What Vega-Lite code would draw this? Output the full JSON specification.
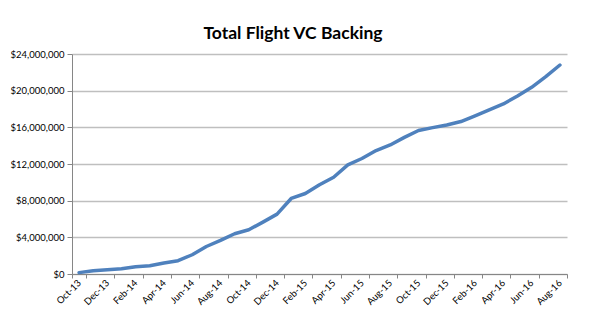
{
  "$schema": "https://vega.github.io/schema/vega-lite/v6.json",
  "autosize": "none",
  "width": 495,
  "height": 220,
  "padding": {"left": 72, "top": 54, "right": 22, "bottom": 53},
  "background": "white",
  "title": {
    "text": "Total Flight VC Backing",
    "anchor": "middle",
    "dx": -26.5,
    "dy": 23,
    "offset": 16,
    "baseline": "alphabetic",
    "font": "Lato",
    "fontSize": 17.5,
    "fontWeight": "bold",
    "color": "#000000"
  },
  "config": {
    "view": {"stroke": null},
    "axis": {"labelFont": "Lato", "labelFontSize": 9.5, "labelColor": "#000000"}
  },
  "data": {
    "values": [
      {"month": "Oct-13", "backing": 150000},
      {"month": "Nov-13", "backing": 360000},
      {"month": "Dec-13", "backing": 470000},
      {"month": "Jan-14", "backing": 580000},
      {"month": "Feb-14", "backing": 800000},
      {"month": "Mar-14", "backing": 900000},
      {"month": "Apr-14", "backing": 1200000},
      {"month": "May-14", "backing": 1450000},
      {"month": "Jun-14", "backing": 2100000},
      {"month": "Jul-14", "backing": 3000000},
      {"month": "Aug-14", "backing": 3660000},
      {"month": "Sep-14", "backing": 4390000},
      {"month": "Oct-14", "backing": 4830000},
      {"month": "Nov-14", "backing": 5660000},
      {"month": "Dec-14", "backing": 6530000},
      {"month": "Jan-15", "backing": 8240000},
      {"month": "Feb-15", "backing": 8780000},
      {"month": "Mar-15", "backing": 9730000},
      {"month": "Apr-15", "backing": 10560000},
      {"month": "May-15", "backing": 11900000},
      {"month": "Jun-15", "backing": 12600000},
      {"month": "Jul-15", "backing": 13470000},
      {"month": "Aug-15", "backing": 14080000},
      {"month": "Sep-15", "backing": 14900000},
      {"month": "Oct-15", "backing": 15650000},
      {"month": "Nov-15", "backing": 15970000},
      {"month": "Dec-15", "backing": 16260000},
      {"month": "Jan-16", "backing": 16630000},
      {"month": "Feb-16", "backing": 17250000},
      {"month": "Mar-16", "backing": 17900000},
      {"month": "Apr-16", "backing": 18550000},
      {"month": "May-16", "backing": 19420000},
      {"month": "Jun-16", "backing": 20370000},
      {"month": "Jul-16", "backing": 21530000},
      {"month": "Aug-16", "backing": 22800000}
    ]
  },
  "mark": {"type": "line", "color": "#4F81BD", "strokeWidth": 3.5, "strokeJoin": "round", "strokeCap": "round"},
  "encoding": {
    "x": {
      "field": "month",
      "type": "ordinal",
      "sort": null,
      "bandPosition": 0.5,
      "scale": {"type": "band", "paddingInner": 0, "paddingOuter": 0},
      "axis": {
        "title": null,
        "values": ["Oct-13","Dec-13","Feb-14","Apr-14","Jun-14","Aug-14","Oct-14","Dec-14","Feb-15","Apr-15","Jun-15","Aug-15","Oct-15","Dec-15","Feb-16","Apr-16","Jun-16","Aug-16"],
        "tickBand": "extent",
        "labelAngle": -45,
        "labelAlign": "right",
        "labelBaseline": "middle",
        "labelPadding": 3,
        "tickSize": 4,
        "tickColor": "#868686",
        "domainColor": "#868686",
        "domainWidth": 1,
        "grid": false,
        "labelOverlap": false
      }
    },
    "y": {
      "field": "backing",
      "type": "quantitative",
      "scale": {"domain": [0, 24000000], "nice": false},
      "axis": {
        "title": null,
        "values": [0, 4000000, 8000000, 12000000, 16000000, 20000000, 24000000],
        "format": "$,.0f",
        "tickSize": 5,
        "tickColor": "#868686",
        "domainColor": "#868686",
        "gridColor": "#BFBFBF",
        "gridWidth": 1.5,
        "labelPadding": 3
      }
    }
  }
}
